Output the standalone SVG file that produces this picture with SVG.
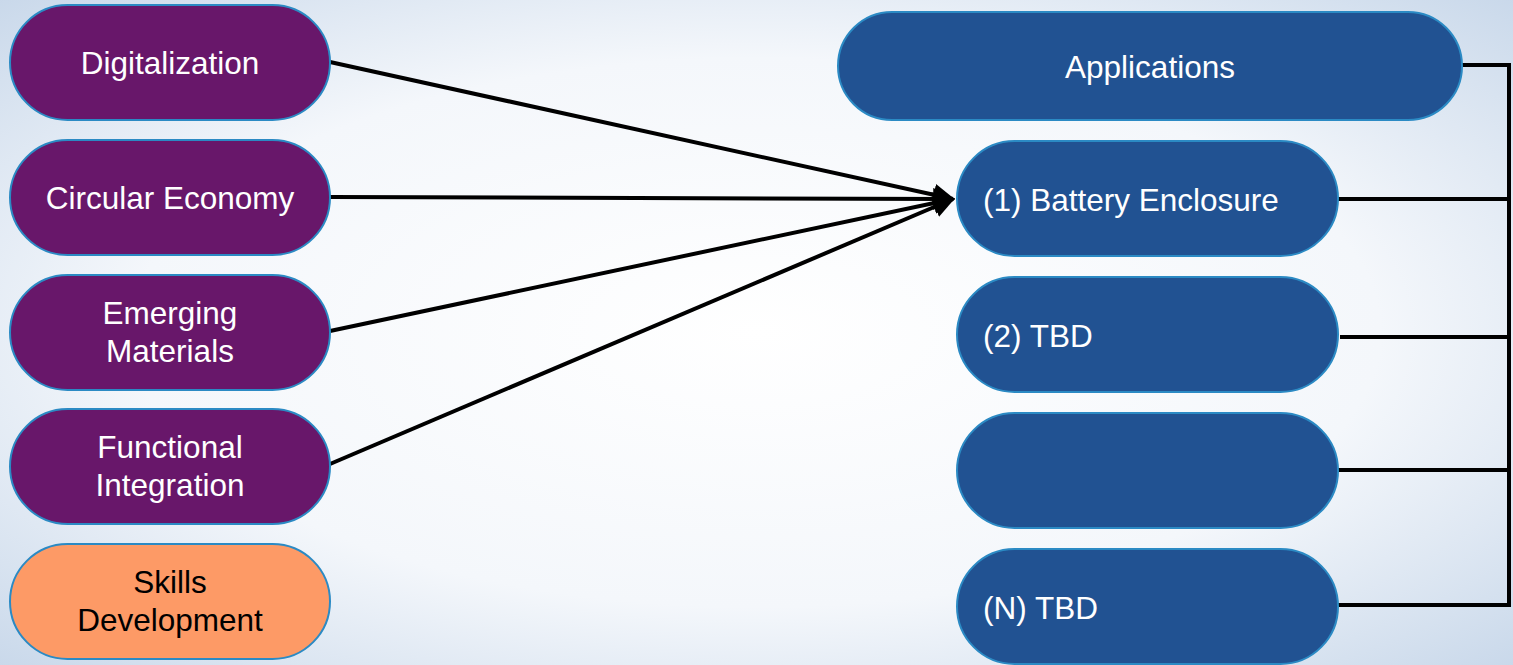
<svg xmlns="http://www.w3.org/2000/svg" width="1513" height="665" viewBox="0 0 1513 665">
  <defs>
    <radialGradient id="bg" cx="0.5" cy="0.5" r="0.75">
      <stop offset="0" stop-color="#ffffff"/>
      <stop offset="0.55" stop-color="#f4f7fb"/>
      <stop offset="1" stop-color="#c3d4e8"/>
    </radialGradient>
    <marker id="arrow" viewBox="0 0 10 10" refX="9" refY="5" markerWidth="5.5" markerHeight="5.5" markerUnits="strokeWidth" orient="auto">
      <path d="M0,0 L10,5 L0,10 z" fill="#000"/>
    </marker>
    <style>
      .pill { stroke: #2b8ac4; stroke-width: 2; }
      .purple { fill: #68176a; }
      .blue { fill: #215292; }
      .orange { fill: #fd9a66; }
      .lbl { font-family: "Liberation Sans", Arial, sans-serif; font-size: 31.5px; fill: #ffffff; }
      .dark { fill: #000000; }
      .mid { text-anchor: middle; }
      .wire { stroke: #000; stroke-width: 4; fill: none; }
    </style>
  </defs>

  <rect width="1513" height="665" fill="url(#bg)"/>

  <!-- connectors -->
  <g id="connectors">
    <line class="wire" x1="330" y1="62" x2="953" y2="199" marker-end="url(#arrow)"/>
    <line class="wire" x1="330" y1="197" x2="953" y2="199" marker-end="url(#arrow)"/>
    <line class="wire" x1="330" y1="331" x2="953" y2="199" marker-end="url(#arrow)"/>
    <line class="wire" x1="330" y1="464" x2="953" y2="199" marker-end="url(#arrow)"/>
    <polyline class="wire" points="1462,65 1509,65 1509,605 1338,605"/>
    <line class="wire" x1="1338" y1="199" x2="1509" y2="199"/>
    <line class="wire" x1="1340" y1="337" x2="1509" y2="337"/>
    <line class="wire" x1="1338" y1="470" x2="1509" y2="470"/>
  </g>

  <!-- left column -->
  <g id="digitalization">
    <rect class="pill purple" x="10" y="5" width="320" height="115" rx="57.5"/>
    <text class="lbl mid" x="170" y="74">Digitalization</text>
  </g>
  <g id="circular-economy">
    <rect class="pill purple" x="10" y="140" width="320" height="115" rx="57.5"/>
    <text class="lbl mid" x="170" y="209">Circular Economy</text>
  </g>
  <g id="emerging-materials">
    <rect class="pill purple" x="10" y="275" width="320" height="115" rx="57.5"/>
    <text class="lbl mid" x="170" y="324">Emerging</text>
    <text class="lbl mid" x="170" y="362">Materials</text>
  </g>
  <g id="functional-integration">
    <rect class="pill purple" x="10" y="409" width="320" height="115" rx="57.5"/>
    <text class="lbl mid" x="170" y="458">Functional</text>
    <text class="lbl mid" x="170" y="496">Integration</text>
  </g>
  <g id="skills-development">
    <rect class="pill orange" x="10" y="544" width="320" height="115" rx="57.5"/>
    <text class="lbl mid dark" x="170" y="593">Skills</text>
    <text class="lbl mid dark" x="170" y="631">Development</text>
  </g>

  <!-- right column -->
  <g id="applications">
    <rect class="pill blue" x="838" y="12" width="624" height="108" rx="54"/>
    <text class="lbl mid" x="1150" y="78">Applications</text>
  </g>
  <g id="app-1">
    <rect class="pill blue" x="957" y="141" width="381" height="115" rx="57.5"/>
    <text class="lbl" x="983" y="211">(1) Battery Enclosure</text>
  </g>
  <g id="app-2">
    <rect class="pill blue" x="957" y="277" width="381" height="115" rx="57.5"/>
    <text class="lbl" x="983" y="347">(2) TBD</text>
  </g>
  <g id="app-3">
    <rect class="pill blue" x="957" y="413" width="381" height="115" rx="57.5"/>
  </g>
  <g id="app-n">
    <rect class="pill blue" x="957" y="549" width="381" height="115" rx="57.5"/>
    <text class="lbl" x="983" y="619">(N) TBD</text>
  </g>
</svg>
